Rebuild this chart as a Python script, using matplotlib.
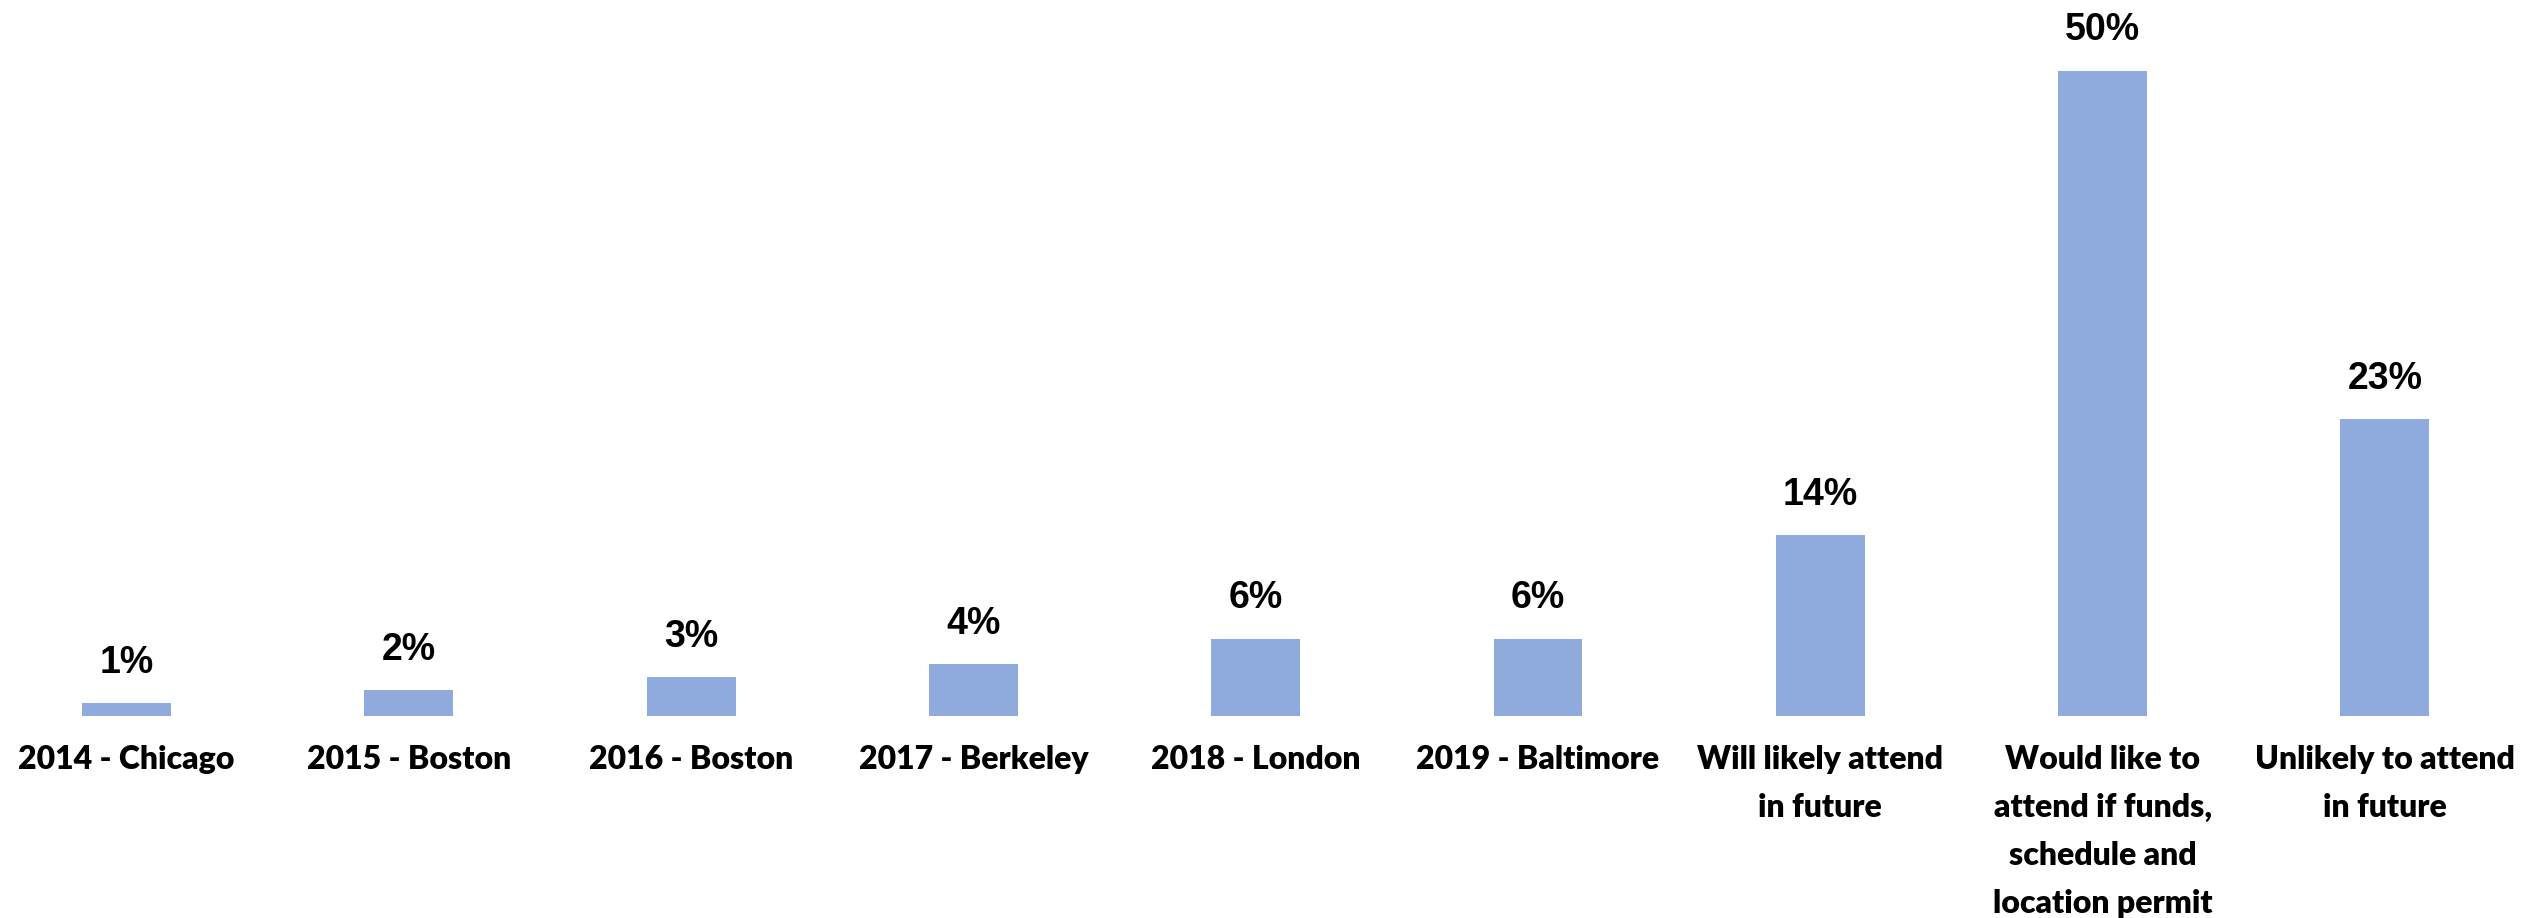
import matplotlib.pyplot as plt
import numpy as np

#---Data---
categories = ["2014 - Chicago", "2015 - Boston", "2016 - Boston", "2017 - Berkeley",
              "2018 - London", "2019 - Baltimore", "Will likely attend\nin future",
              "Would like to\nattend if funds,\nschedule and\nlocation permit",
              "Unlikely to attend\nin future"]
values = [1, 2, 3, 4, 6, 6, 14, 50, 23]

bar_color = '#8FAADC'

#---Figure---
fig = plt.figure(figsize=(25.32, 9.18), dpi=100)
ax = fig.add_axes([0, 202/918, 1, 710/918])

x = np.arange(len(categories))
ax.bar(x, values, width=0.315, color=bar_color)

# value labels above bars
for xi, v in zip(x, values):
    ax.annotate(f"{v}%", (xi, v), xytext=(0, 22), textcoords='offset points',
                ha='center', va='baseline', fontsize=27, fontweight='bold',
                family='Liberation Sans')

ax.set_xlim(-126.5/282.3, (2532-126.5)/282.3)
ax.set_ylim(0, 55)
ax.set_xticks(x)
ax.set_xticklabels(categories, fontsize=23, fontweight='heavy', family='Lato',
                   linespacing=1.79, multialignment='center')
ax.tick_params(axis='x', length=0, pad=21)
ax.set_yticks([])
for s in ax.spines.values():
    s.set_visible(False)

plt.savefig("out.png", dpi=100)
